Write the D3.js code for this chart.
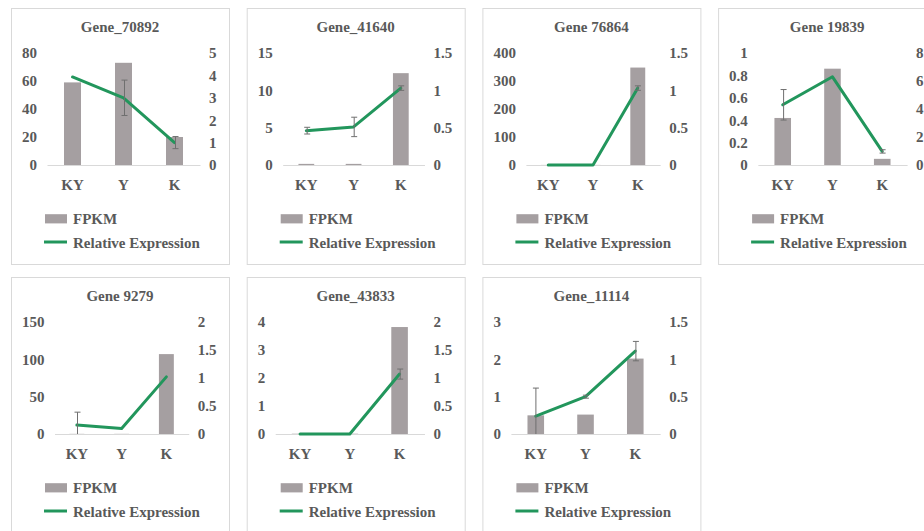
<!DOCTYPE html>
<html>
<head>
<meta charset="utf-8">
<script src="https://cdn.jsdelivr.net/npm/d3@7"></script>
<style>
  html, body { margin: 0; padding: 0; background: #ffffff; }
  svg { display: block; }
</style>
</head>
<body>
<script>
// Sample groups along the x axis
const categories = ["KY", "Y", "K"];

// One panel per gene
const genes = ["Gene_70892", "Gene_41640", "Gene 76864", "Gene 19839", "Gene 9279", "Gene_43833", "Gene_11114"];

// FPKM per gene (bars, left axis)
const fpkm = [
  [59, 73, 20],
  [0.15, 0.15, 12.3],
  [0.3, 0.3, 348],
  [0.42, 0.86, 0.055],
  [0.2, 0.2, 107],
  [0.01, 0.01, 3.82],
  [0.5, 0.52, 2.02]
];

// qRT-PCR relative expression per gene (line, right axis)
const relExpr = [
  [3.93, 3.0, 1.0],
  [0.46, 0.51, 1.03],
  [0, 0, 1.03],
  [4.3, 6.3, 0.97],
  [0.16, 0.10, 1.02],
  [0, 0, 1.07],
  [0.24, 0.5, 1.11]
];

// Standard deviation of relative expression
const relErr = [
  [0, 0.79, 0.27],
  [0.045, 0.13, 0.03],
  [0, 0, 0.03],
  [1.09, 0, 0.12],
  [0.23, 0, 0],
  [0, 0, 0.09],
  [0.375, 0.02, 0.13]
];

// Tick values of the left (FPKM) axis
const fpkmTicks = [
  [0, 20, 40, 60, 80],
  [0, 5, 10, 15],
  [0, 100, 200, 300, 400],
  [0, 0.2, 0.4, 0.6, 0.8, 1],
  [0, 50, 100, 150],
  [0, 1, 2, 3, 4],
  [0, 1, 2, 3]
];

// Tick values of the right (relative expression) axis
const relTicks = [
  [0, 1, 2, 3, 4, 5],
  [0, 0.5, 1, 1.5],
  [0, 0.5, 1, 1.5],
  [0, 2, 4, 6, 8],
  [0, 0.5, 1, 1.5, 2],
  [0, 0.5, 1, 1.5, 2],
  [0, 0.5, 1, 1.5]
];

const legendLabels = ["FPKM", "Relative Expression"];

// ---- styling ----
const FONT = "'Liberation Serif', 'Times New Roman', serif";
const TEXT = "#595959";
const BAR = "#a59fa1";
const LINE = "#22965c";
const GRID = "#d9d9d9";
const FS = 15;

const svg = d3.select("body").append("svg")
  .attr("width", 924).attr("height", 531);

const fmt = v => String(+v.toFixed(3));

function textWidth(s) {
  const t = svg.append("text")
    .attr("font-family", FONT).attr("font-weight", "bold")
    .attr("font-size", FS).text(s);
  const w = t.node().getComputedTextLength();
  t.remove();
  return w;
}

const PW = 218, PH = 256;
const colStep = 235.7, rowStep = 269;
const plotTop = 45, plotBase = 157;

function styleText(sel) {
  sel.attr("font-family", FONT).attr("font-weight", "bold")
     .attr("font-size", FS).attr("fill", TEXT);
}

genes.forEach((gene, i) => {
  const col = i % 4, row = Math.floor(i / 4);
  const g = svg.append("g")
    .attr("transform", `translate(${11 + col * colStep},${8 + row * rowStep})`);

  // panel frame
  g.append("rect")
    .attr("x", 0.5).attr("y", 0.5)
    .attr("width", PW).attr("height", PH)
    .attr("fill", "#ffffff").attr("stroke", GRID).attr("stroke-width", 1);

  // title
  g.append("text")
    .attr("x", PW / 2).attr("y", 23.5)
    .attr("text-anchor", "middle")
    .text(gene)
    .call(styleText);

  const lTicks = fpkmTicks[i], rTicks = relTicks[i];
  const leftW = d3.max(lTicks, t => textWidth(fmt(t)));
  const rightW = d3.max(rTicks, t => textWidth(fmt(t)));
  const plotL = 21 + leftW;
  const plotR = PW - rightW - 21.5;

  const x = d3.scaleBand().domain(categories)
    .range([plotL, plotR]).paddingInner(2 / 3).paddingOuter(1 / 3);
  const yL = d3.scaleLinear().domain([0, d3.max(lTicks)]).range([plotBase, plotTop]);
  const yR = d3.scaleLinear().domain([0, d3.max(rTicks)]).range([plotBase, plotTop]);
  const cx = c => x(c) + x.bandwidth() / 2;

  // left axis
  const axL = g.append("g").attr("transform", `translate(${plotL - 10},0)`)
    .call(d3.axisLeft(yL).tickValues(lTicks).tickFormat(fmt).tickSize(0).tickPadding(0));
  axL.select(".domain").remove();
  axL.selectAll("text").call(styleText);

  // right axis
  const axR = g.append("g").attr("transform", `translate(${plotR + 9},0)`)
    .call(d3.axisRight(yR).tickValues(rTicks).tickFormat(fmt).tickSize(0).tickPadding(0));
  axR.select(".domain").remove();
  axR.selectAll("text").call(styleText);

  // category axis
  const axB = g.append("g").attr("transform", `translate(0,${plotBase})`)
    .call(d3.axisBottom(x).tickSize(0).tickSizeOuter(0).tickPadding(14.5));
  axB.select(".domain").attr("stroke", GRID).attr("stroke-width", 1.2);
  axB.selectAll("text").call(styleText);

  // FPKM bars
  g.append("g").selectAll("rect")
    .data(categories.map((c, k) => ({ c, v: fpkm[i][k] })))
    .join("rect")
    .attr("x", d => x(d.c))
    .attr("width", x.bandwidth())
    .attr("y", d => yL(d.v))
    .attr("height", d => plotBase - yL(d.v))
    .attr("fill", BAR);

  // relative expression line
  const pts = categories.map((c, k) => ({ c, v: relExpr[i][k], e: relErr[i][k] }));
  g.append("path")
    .datum(pts)
    .attr("fill", "none")
    .attr("stroke", LINE)
    .attr("stroke-width", 3)
    .attr("stroke-linejoin", "round")
    .attr("stroke-linecap", "round")
    .attr("d", d3.line().x(d => cx(d.c)).y(d => yR(d.v)));

  // error bars (kept inside the plot area)
  const eb = g.append("g").attr("stroke", "#6f6f6f").attr("stroke-width", 1);
  pts.filter(d => d.e > 0).forEach(d => {
    const hi = yR(d.v + d.e);
    const loRaw = d.v - d.e;
    const lo = yR(Math.max(0, loRaw));
    const xc = Math.round(cx(d.c)) + 0.5;
    eb.append("line").attr("x1", xc).attr("x2", xc).attr("y1", hi).attr("y2", lo);
    eb.append("line").attr("x1", xc - 3).attr("x2", xc + 3).attr("y1", hi).attr("y2", hi);
    if (loRaw >= 0) {
      eb.append("line").attr("x1", xc - 3).attr("x2", xc + 3).attr("y1", lo).attr("y2", lo);
    }
  });

  // legend
  const lg = g.append("g");
  lg.append("rect")
    .attr("x", 34).attr("y", 206.2)
    .attr("width", 22).attr("height", 9.2)
    .attr("fill", BAR);
  lg.append("text").attr("x", 62).attr("y", 215.5).text(legendLabels[0]).call(styleText);
  lg.append("line")
    .attr("x1", 33).attr("x2", 56).attr("y1", 234).attr("y2", 234)
    .attr("stroke", LINE).attr("stroke-width", 3);
  lg.append("text").attr("x", 62).attr("y", 240).text(legendLabels[1]).call(styleText);
});
</script>
</body>
</html>
